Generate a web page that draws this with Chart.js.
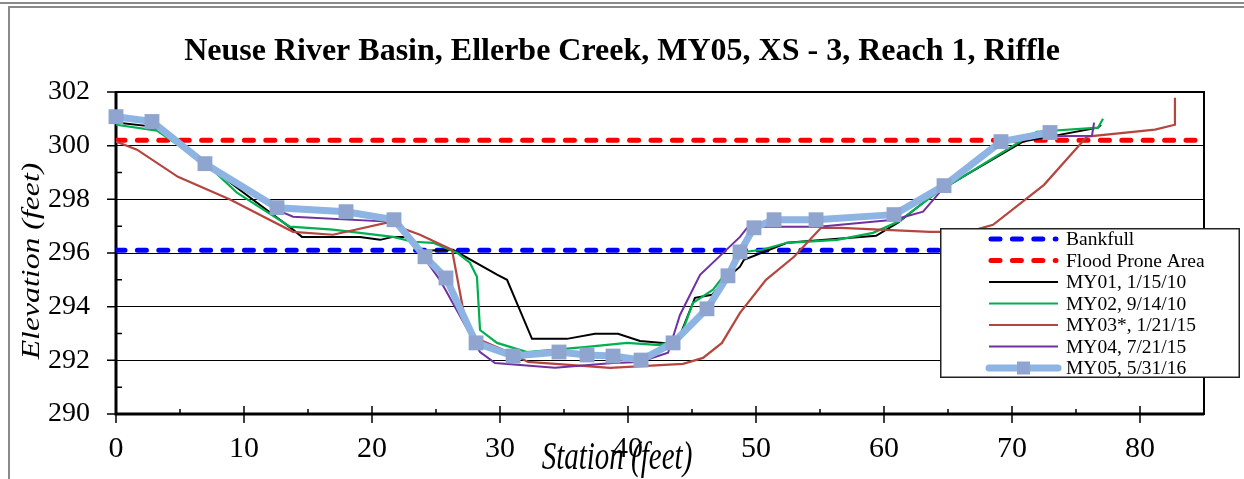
<!DOCTYPE html>
<html><head><meta charset="utf-8">
<script src="https://cdn.jsdelivr.net/npm/chart.js@4.4.1/dist/chart.umd.min.js"></script>
<style>
html,body{margin:0;padding:0;background:#fff;}
#wrap{position:relative;width:1244px;height:479px;overflow:hidden;background:#fff;}
canvas{position:absolute;left:0;top:0;}
.fl{position:absolute;background:#8a8a8a;}
</style></head><body>
<div id="wrap">
<canvas id="c" width="1244" height="479"></canvas>
<div class="fl" style="left:0;top:2px;width:1244px;height:2px"></div>
<div class="fl" style="left:8px;top:6px;width:1236px;height:2px"></div>
<div class="fl" style="left:8px;top:6px;width:2px;height:473px"></div>
</div>
<script>
const titleText = 'Neuse River Basin, Ellerbe Creek, MY05, XS - 3, Reach 1, Riffle';
const xTitle = 'Station (feet)';
const yTitle = 'Elevation (feet)';
const legendLabels = ['Bankfull','Flood Prone Area','MY01, 1/15/10','MY02, 9/14/10','MY03*, 1/21/15','MY04, 7/21/15','MY05, 5/31/16'];

const xRange = [0, 85];
const yRange = [290, 302];
const bankfullElev = 296.1;
const floodElev = 300.2;

const my01X = [0,2.89,7.11,9.45,13.83,14.53,19.06,20.63,21.64,22.73,23.98,26.33,29.77,30.55,32.5,35.23,37.42,39.22,40.94,42.73,43.83,45.23,46.56,47.58,48.75,49.06,52.42,59.38,61.09,64.14,70.86,76.72,76.95];
const my01Y = [300.86,300.71,299.29,298.43,296.87,296.6,296.6,296.49,296.6,296.6,296.08,296.12,295.19,295.0,292.8,292.8,292.99,292.99,292.72,292.65,292.65,294.33,294.44,295.0,295.49,295.75,296.38,296.64,297.13,298.28,300.15,300.67,300.78];

const my02X = [0,3.2,7.11,9.45,13.59,16.95,21.64,23.2,24.77,26.64,27.66,28.2,28.44,29.77,32.11,36.8,39.92,42.5,44.06,45.08,46.64,47.73,48.75,49.06,50.47,52.42,56.33,59.14,61.09,64.14,70.86,71.95,76.72,77.11];
const my02Y = [300.78,300.56,299.29,298.25,296.98,296.87,296.6,296.42,296.38,296.01,295.63,295.11,293.13,292.65,292.31,292.5,292.65,292.57,292.84,294.14,294.63,295.3,295.82,296.04,296.12,296.38,296.49,296.75,297.16,298.25,300.22,300.52,300.67,301.0];

const my03X = [0,1.64,4.84,8.91,13.83,16.95,21.17,23.75,26.25,27.27,28.05,30.78,32.19,38.59,44.3,45.86,47.34,48.75,50.78,52.97,55.08,56.64,63.59,66.56,68.52,72.5,75.86,81.17,82.73,82.73];
const my03Y = [300.15,299.85,298.84,297.99,296.79,296.68,297.13,296.68,296.12,293.51,292.84,292.28,291.94,291.72,291.87,292.09,292.65,293.77,295.0,295.86,296.94,296.94,296.79,296.79,297.05,298.54,300.34,300.6,300.78,301.79];

const my04X = [0,2.81,6.95,12.58,13.83,21.64,23.9,25.3,28.44,29.61,34.3,38.83,40.94,43.13,44.06,45.63,48.75,49.38,52.42,54.92,60.78,63.05,64.53,69.14,71.95,76.25,76.41];
const my04Y = [301.04,300.86,299.29,297.61,297.35,297.16,295.93,295.0,292.31,291.9,291.72,291.9,291.94,292.28,293.69,295.19,296.6,296.98,296.98,296.98,297.24,297.54,298.36,300.11,300.34,300.37,300.86];

const my05X = [0,2.81,6.95,12.58,17.97,21.72,24.14,25.78,28.13,31.02,34.61,36.8,38.83,41.02,43.52,46.17,47.81,48.75,49.84,51.41,54.69,60.78,64.69,69.14,72.97];
const my05Y = [301.08,300.9,299.33,297.69,297.54,297.24,295.86,295.07,292.65,292.16,292.31,292.2,292.16,292.01,292.65,293.92,295.15,296.04,296.94,297.24,297.24,297.43,298.51,300.15,300.49];

const pts = (xs, ys) => xs.map((x, i) => ({x, y: ys[i]}));
const flat = v => [{x: xRange[0], y: v}, {x: xRange[1], y: v}];

const SERIF = "'Liberation Serif','Times New Roman',serif";

const datasets = [
  {label: legendLabels[0], data: flat(bankfullElev), borderColor:'#0000FF', borderWidth:5, borderDash:[9,12.4], borderCapStyle:'round', pointRadius:0, order:7},
  {label: legendLabels[1], data: flat(floodElev), borderColor:'#FF0000', borderWidth:5, borderDash:[9,12.4], borderCapStyle:'round', pointRadius:0, order:6},
  {label: legendLabels[2], data: pts(my01X,my01Y), borderColor:'#000000', borderWidth:2, pointRadius:0, order:5},
  {label: legendLabels[3], data: pts(my02X,my02Y), borderColor:'#00B050', borderWidth:2.2, pointRadius:0, order:4},
  {label: legendLabels[4], data: pts(my03X,my03Y), borderColor:'#B5453F', borderWidth:2.2, pointRadius:0, order:3},
  {label: legendLabels[5], data: pts(my04X,my04Y), borderColor:'#7030A0', borderWidth:2, pointRadius:0, order:2},
  {label: legendLabels[6], data: pts(my05X,my05Y), borderColor:'#8DB4E2', borderWidth:7, borderJoinStyle:'round', borderCapStyle:'round',
   pointStyle:'rect', pointRadius:10.5, pointHoverRadius:10.5, pointBackgroundColor:'#8FA5CF', pointBorderWidth:0, pointBorderColor:'#8FA5CF', order:1, clip:false}
];

const framePlugin = {
  id: 'frame',
  beforeDatasetsDraw(chart) {
    const {ctx, chartArea: a, scales: {x, y}} = chart;
    ctx.save();
    ctx.strokeStyle = '#000';
    ctx.lineWidth = 1.5;
    ctx.beginPath();
    y.ticks.forEach(t => {
      const py = y.getPixelForValue(t.value);
      if (t.value % 2 === 0) { ctx.moveTo(a.left - 9, py); ctx.lineTo(a.left, py); }
      else { ctx.moveTo(a.left, py); ctx.lineTo(a.left + 6, py); }
    });
    x.ticks.forEach(t => {
      const px = x.getPixelForValue(t.value);
      if (t.value % 10 === 0) { ctx.moveTo(px, a.bottom - 8); ctx.lineTo(px, a.bottom + 9); }
      else { ctx.moveTo(px, a.bottom - 5); ctx.lineTo(px, a.bottom); }
    });
    ctx.stroke();
    ctx.lineWidth = 2;
    ctx.strokeRect(a.left, a.top, a.right - a.left, a.bottom - a.top);
    ctx.lineWidth = 3;
    ctx.beginPath();
    ctx.moveTo(a.left, a.top); ctx.lineTo(a.left, a.bottom); ctx.lineTo(a.right, a.bottom);
    ctx.stroke();
    ctx.restore();
  },
  afterDraw(chart) {
    const {ctx, chartArea: a} = chart;
    ctx.save();
    ctx.fillStyle = '#000';
    ctx.textAlign = 'center';
    ctx.textBaseline = 'middle';
    // y axis title (rotated)
    ctx.save();
    ctx.translate(32, (a.top + a.bottom) / 2 + 8);
    ctx.rotate(-Math.PI / 2);
    ctx.scale(1.27, 1);
    ctx.font = 'italic 25px ' + SERIF;
    ctx.fillText(yTitle, 0, 0);
    ctx.restore();
    // x axis title
    ctx.save();
    ctx.translate(617, 459);
    ctx.scale(1, 1.35);
    ctx.font = 'italic 29px ' + SERIF;
    ctx.fillText(xTitle, 0, 0);
    ctx.restore();
    ctx.restore();
  }
};

const legendPlugin = {
  id: 'boxLegend',
  afterDraw(chart) {
    const ctx = chart.ctx;
    const bx = 940, by = 228, bw = 300, bh = 150;
    ctx.save();
    ctx.fillStyle = '#fff';
    ctx.fillRect(bx, by, bw, bh);
    ctx.strokeStyle = '#222';
    ctx.lineWidth = 1.5;
    ctx.strokeRect(bx + 0.75, by + 0.75, bw - 1.5, bh - 1.5);
    ctx.font = '19.5px ' + SERIF;
    ctx.textBaseline = 'middle';
    ctx.textAlign = 'left';
    chart.data.datasets.forEach((ds, i) => {
      const ry = 239 + i * 21.5;
      ctx.save();
      ctx.strokeStyle = ds.borderColor;
      ctx.lineWidth = ds.borderWidth;
      ctx.lineCap = ds.borderCapStyle || 'butt';
      ctx.setLineDash(ds.borderDash || []);
      ctx.beginPath();
      const x0 = ds.borderDash ? 991 : 989;
      ctx.moveTo(x0, ry); ctx.lineTo(ds.borderDash ? 1056 : 1058, ry);
      ctx.stroke();
      ctx.restore();
      if (ds.pointRadius > 0) {
        ctx.fillStyle = ds.pointBackgroundColor;
        ctx.fillRect(1017, ry - 6.5, 13, 13);
      }
      ctx.fillStyle = '#000';
      ctx.fillText(ds.label, 1066, ry + 1);
    });
    ctx.restore();
  }
};

new Chart(document.getElementById('c'), {
  type: 'line',
  data: {datasets},
  plugins: [framePlugin, legendPlugin],
  options: {
    responsive: false,
    animation: false,
    devicePixelRatio: 1,
    events: [],
    layout: {padding: {left: 0, right: 0, top: 0, bottom: 0}},
    elements: {line: {tension: 0}},
    plugins: {
      legend: {display: false},
      tooltip: {enabled: false},
      title: {display: true, text: titleText, color: '#000',
        font: {family: SERIF, size: 32, weight: 'bold', lineHeight: 1.2},
        padding: {top: 32.5, bottom: 21.1}}
    },
    scales: {
      x: {
        type: 'linear', min: xRange[0], max: xRange[1],
        afterFit(s) { s.height = 65; },
        grid: {display: false, drawTicks: false},
        border: {display: false},
        ticks: {stepSize: 5, autoSkip: false, maxRotation: 0, padding: 17, color: '#000',
          font: {family: SERIF, size: 30},
          callback: v => (v % 10 === 0 ? String(v) : '')}
      },
      y: {
        type: 'linear', min: yRange[0], max: yRange[1],
        afterFit(s) { s.width = 116; },
        grid: {drawTicks: false, lineWidth: 1,
          color: c => (c.tick && c.tick.value % 2 === 0 ? '#000' : 'rgba(0,0,0,0)')},
        border: {display: false},
        ticks: {stepSize: 1, autoSkip: false, padding: 26, color: '#000',
          font: {family: SERIF, size: 28},
          callback: v => (v % 2 === 0 ? String(v) : '')}
      },
      yRight: {
        type: 'linear', position: 'right', display: true,
        afterFit(s) { s.width = 40; },
        grid: {display: false, drawTicks: false},
        border: {display: false},
        ticks: {display: false}
      }
    }
  }
});
</script>
</body></html>
